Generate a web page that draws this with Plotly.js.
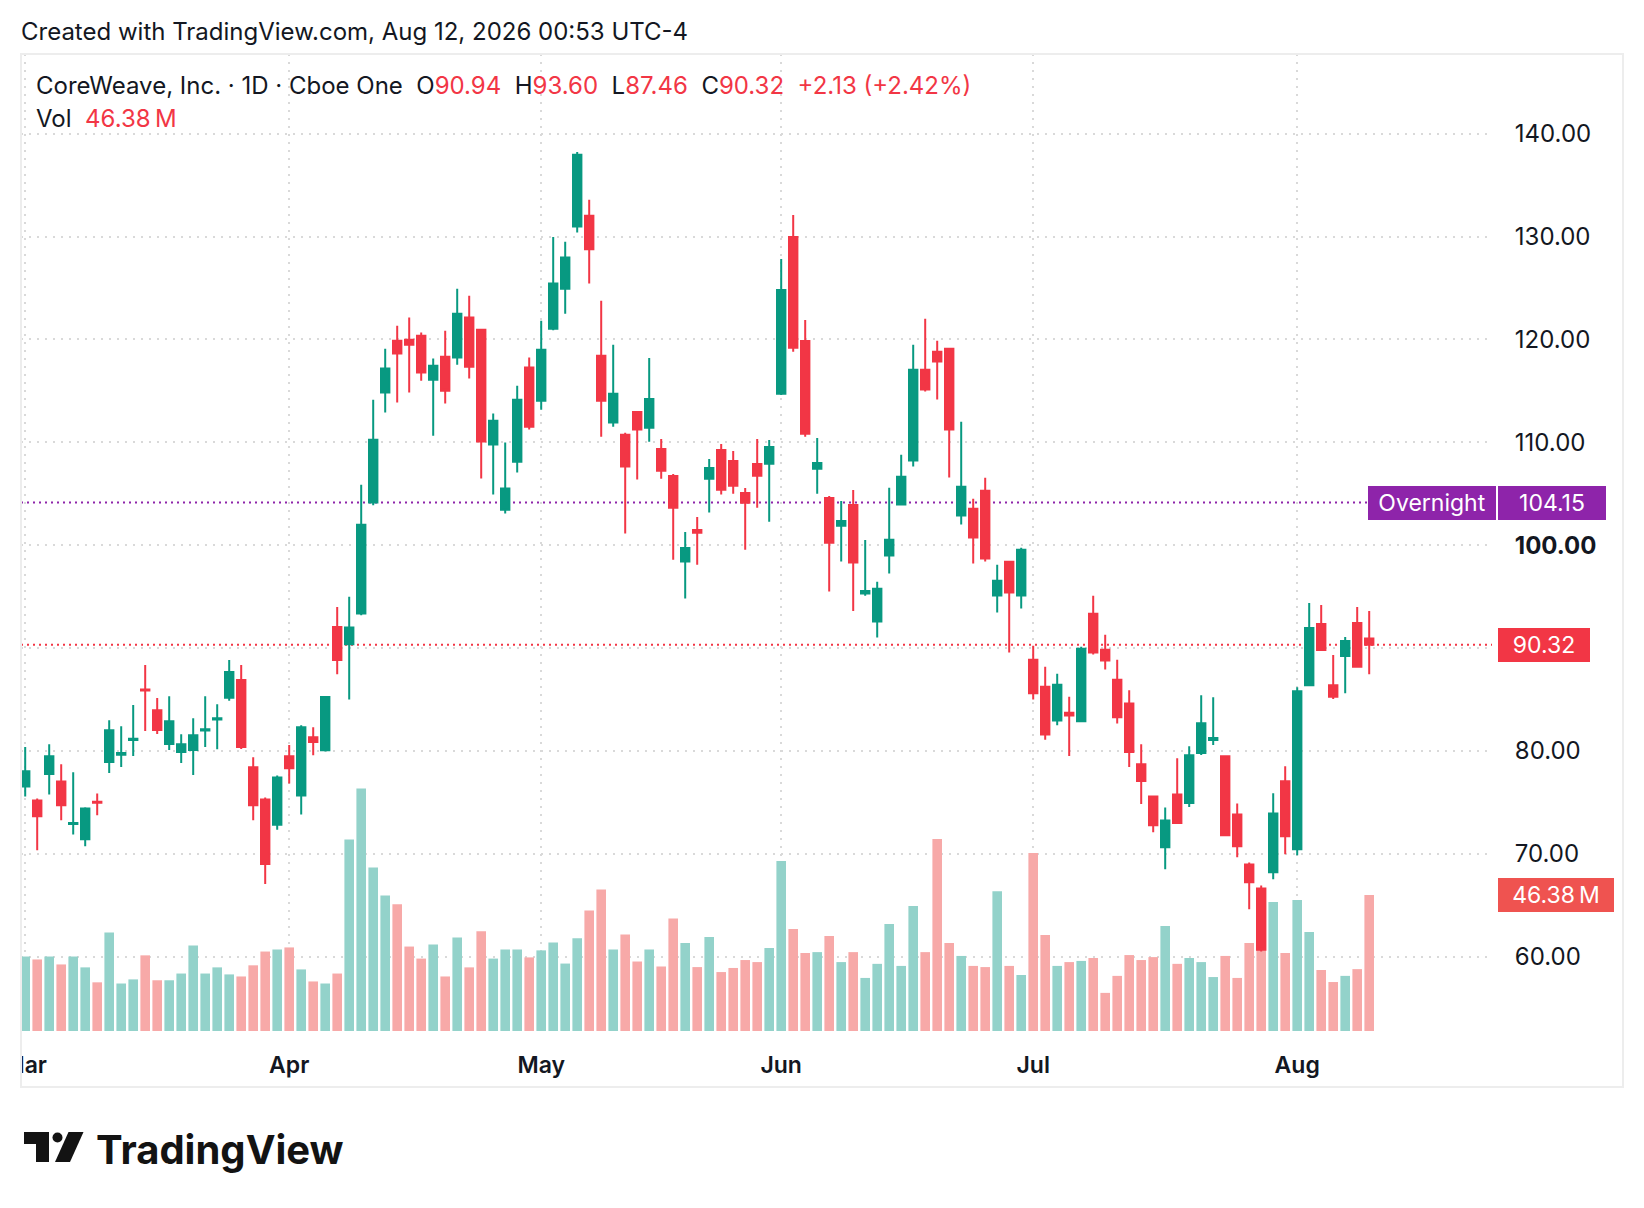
<!DOCTYPE html>
<html>
<head>
<meta charset="utf-8">
<script src="https://cdn.plot.ly/plotly-3.0.1.min.js"></script>
<style>
  html, body { margin: 0; padding: 0; background: #ffffff; }
  #chart { width: 1644px; height: 1208px; }
</style>
</head>
<body>
<div id="chart"></div>
<script>
// ---- data ----
const dates = [
  "2026-03-02","2026-03-03","2026-03-04","2026-03-05","2026-03-06",
  "2026-03-09","2026-03-10","2026-03-11","2026-03-12","2026-03-13",
  "2026-03-16","2026-03-17","2026-03-18","2026-03-19","2026-03-20",
  "2026-03-23","2026-03-24","2026-03-25","2026-03-26","2026-03-27",
  "2026-03-30","2026-03-31",
  "2026-04-01","2026-04-02","2026-04-06","2026-04-07","2026-04-08","2026-04-09","2026-04-10",
  "2026-04-13","2026-04-14","2026-04-15","2026-04-16","2026-04-17",
  "2026-04-20","2026-04-21","2026-04-22","2026-04-23","2026-04-24",
  "2026-04-27","2026-04-28","2026-04-29","2026-04-30",
  "2026-05-01","2026-05-04","2026-05-05","2026-05-06","2026-05-07","2026-05-08",
  "2026-05-11","2026-05-12","2026-05-13","2026-05-14","2026-05-15",
  "2026-05-18","2026-05-19","2026-05-20","2026-05-21","2026-05-22",
  "2026-05-26","2026-05-27","2026-05-28","2026-05-29",
  "2026-06-01","2026-06-02","2026-06-03","2026-06-04","2026-06-05",
  "2026-06-08","2026-06-09","2026-06-10","2026-06-11","2026-06-12",
  "2026-06-15","2026-06-16","2026-06-17","2026-06-18",
  "2026-06-22","2026-06-23","2026-06-24","2026-06-25","2026-06-26",
  "2026-06-29","2026-06-30",
  "2026-07-01","2026-07-02","2026-07-06","2026-07-07","2026-07-08","2026-07-09","2026-07-10",
  "2026-07-13","2026-07-14","2026-07-15","2026-07-16","2026-07-17",
  "2026-07-20","2026-07-21","2026-07-22","2026-07-23","2026-07-24",
  "2026-07-27","2026-07-28","2026-07-29","2026-07-30","2026-07-31",
  "2026-08-03","2026-08-04","2026-08-05","2026-08-06","2026-08-07",
  "2026-08-10","2026-08-11"
];

const openP = [
  76.55,75.19,77.76,77.04,72.91,71.41,75.06,78.93,79.64,81.07,
  85.98,83.97,80.68,79.90,80.10,81.98,83.06,85.17,86.89,78.41,
  75.28,72.83,79.48,75.67,81.33,80.07,92.04,90.38,93.37,104.16,
  114.84,119.88,119.98,120.36,116.09,118.31,118.24,122.13,120.95,109.78,
  103.46,108.11,117.27,114.05,121.05,124.94,130.98,132.02,118.42,111.92,
  110.74,112.96,111.43,109.36,106.73,98.41,101.48,106.47,109.26,108.19,
  105.08,107.90,107.93,114.73,129.96,119.85,107.44,104.59,101.90,103.91,
  95.30,92.59,99.01,103.96,108.24,117.05,118.80,119.09,102.90,103.54,
  105.29,95.12,98.39,95.12,88.87,86.25,82.97,83.72,82.88,93.34,
  89.84,86.93,84.62,78.70,75.58,70.65,75.78,74.94,79.81,81.07,
  79.48,73.83,68.96,66.62,68.21,77.05,70.45,86.40,92.34,86.40,
  89.22,92.44,90.94
];
const highP = [
  80.39,75.38,80.65,78.70,77.92,74.54,75.87,82.99,82.41,84.46,
  88.36,85.14,85.33,81.63,83.19,85.33,84.55,88.85,88.36,79.38,
  75.48,77.62,80.59,82.50,82.31,85.33,94.00,94.99,105.89,114.15,
  119.11,121.33,122.13,120.67,118.14,120.85,124.94,124.25,121.05,112.80,
  109.99,115.50,118.24,121.82,129.97,129.49,138.23,133.58,123.76,119.48,
  110.94,113.05,118.20,110.33,106.93,101.29,102.75,108.38,109.84,109.16,
  105.57,110.33,110.23,127.82,132.10,121.89,110.42,104.79,104.30,105.37,
  100.51,96.45,105.58,108.79,119.48,122.01,119.87,119.19,112.00,104.52,
  106.56,98.10,98.49,99.75,90.23,88.19,87.51,85.27,90.13,95.09,
  91.30,88.87,85.90,80.65,75.65,74.51,79.29,80.45,85.42,85.23,
  79.58,74.90,69.16,66.92,75.88,78.51,86.20,94.38,94.19,89.32,
  91.07,93.99,93.60
];
const lowP = [
  75.58,70.34,75.77,73.27,71.87,70.73,73.76,77.85,78.44,79.51,
  81.95,81.66,80.10,78.83,77.66,80.39,80.16,84.88,80.20,73.27,
  67.07,72.35,76.85,73.82,79.58,79.95,87.45,85.00,93.19,103.88,
  112.90,113.87,114.84,115.99,110.65,113.77,117.55,116.20,106.48,104.92,
  103.08,107.07,111.24,113.18,120.90,122.51,130.39,125.43,110.54,111.52,
  101.15,106.38,110.07,106.47,98.60,94.81,98.11,103.17,104.92,105.01,
  99.57,103.65,102.29,114.60,118.81,110.55,105.01,95.49,98.41,93.60,
  95.10,91.04,97.26,103.87,107.66,114.95,114.17,106.59,102.02,98.23,
  98.43,93.47,89.58,93.86,85.01,81.09,82.49,79.51,82.80,89.39,
  87.93,82.68,78.44,74.84,72.11,68.51,72.90,74.55,79.61,80.58,
  71.72,69.68,64.61,60.52,67.53,69.97,69.87,86.30,89.75,85.06,
  85.62,88.10,87.46
];
const closeP = [
  78.02,73.66,79.48,74.73,73.01,74.41,74.96,82.02,79.80,81.20,
  85.89,82.05,82.89,80.65,81.53,82.11,83.19,87.67,80.39,74.73,
  69.02,77.43,78.31,82.31,80.88,85.24,88.84,92.01,102.00,110.26,
  117.17,118.63,119.49,116.79,117.45,115.02,122.51,117.34,110.09,112.10,
  105.51,114.15,111.51,119.01,125.43,127.96,137.95,128.76,114.05,114.72,
  107.65,111.24,114.21,107.25,103.65,99.73,101.22,107.51,105.40,105.79,
  104.14,106.76,109.55,124.81,119.20,110.84,107.99,100.25,102.36,98.31,
  95.56,95.77,100.53,106.65,117.05,115.14,117.86,111.25,105.68,100.76,
  98.72,96.55,95.41,99.56,85.60,81.61,86.44,83.46,89.94,89.58,
  88.80,83.27,79.90,77.08,72.79,73.25,72.99,79.58,82.69,81.27,
  71.82,70.75,67.24,60.68,73.93,71.72,85.81,91.95,89.81,85.26,
  90.68,88.19,90.32
];
// volume, millions of shares
const volumeM = [
  25.4,24.4,25.4,22.7,25.4,21.7,16.6,33.6,16.2,17.6,
  25.8,17.3,17.3,19.6,29.2,19.6,21.7,19.3,18.6,22.4,
  27.1,27.8,28.5,21.0,16.9,16.2,19.6,65.3,82.7,55.8,
  46.2,43.2,28.8,24.7,29.5,18.6,31.9,21.7,34.0,24.7,
  27.8,27.8,25.1,27.5,30.2,23.0,31.6,41.1,48.3,27.8,
  32.9,23.7,27.8,22.0,38.4,30.0,21.8,32.1,20.1,21.5,
  24.2,23.5,28.3,58.0,34.8,26.6,26.9,32.4,23.5,26.9,
  18.1,22.9,36.5,22.2,42.6,26.9,65.5,30.0,25.6,22.2,
  21.8,47.7,22.2,19.1,60.7,32.7,22.2,23.5,23.9,24.9,
  13.0,18.8,25.9,24.2,25.2,35.8,22.9,24.9,23.5,18.4,
  25.6,18.1,30.0,27.7,44.0,26.6,44.7,33.8,20.8,16.7,
  18.8,21.1,46.38
];

const monthTickDates = ["2026-03-02","2026-04-01","2026-05-01","2026-06-01","2026-07-01","2026-08-03"];
const monthTickText  = ["Mar","Apr","May","Jun","Jul","Aug"];

const priceTickVals = [60,70,80,90,100,110,120,130,140];
const priceTickText = ["60.00","70.00","80.00","","<b>100.00</b>","110.00","120.00","130.00","140.00"];

const overnightPrice = 104.15;
const lastPrice = 90.32;
const lastVolumeM = 46.38;

// ---- styling ----
const UP = "#089981", DOWN = "#f23645";
const UP_VOL = "#93d2ca", DOWN_VOL = "#f7a9a8";
const TXT = "#131722";
const FONT = "Inter, 'Noto Sans', sans-serif";

const W = 1644, H = 1208;
const PL = 21, PR = 1492, PT = 54, PB = 1031;
const px = x => (x - PL) / (PR - PL);
const py = y => (PB - y) / (PB - PT);

const volColors = closeP.map((c, i) => c >= openP[i] ? UP_VOL : DOWN_VOL);

const volTrace = {
  type: "bar", x: dates, y: volumeM, xaxis: "x", yaxis: "y",
  marker: { color: volColors, line: { width: 0 } }, width: 0.8,
  hoverinfo: "skip", showlegend: false
};
const candleTrace = {
  type: "candlestick", x: dates, open: openP, high: highP, low: lowP, close: closeP,
  xaxis: "x", yaxis: "y2",
  increasing: { line: { color: UP, width: 2 }, fillcolor: UP },
  decreasing: { line: { color: DOWN, width: 2 }, fillcolor: DOWN },
  whiskerwidth: 0, showlegend: false, hoverinfo: "skip"
};

const red = s => `<span style="color:${DOWN}">${s}</span>`;
const sp = "\u00a0\u00a0";

const annotations = [
  { text: "Created with TradingView.com, Aug 12, 2026 00:53 UTC-4", x: px(21), y: py(31),
    font: { size: 24, color: TXT, family: FONT } },
  { text: "CoreWeave, Inc. · 1D · Cboe One" + sp + "O" + red(openP[112].toFixed(2)) + sp +
          "H" + red(highP[112].toFixed(2)) + sp + "L" + red(lowP[112].toFixed(2)) + sp +
          "C" + red(closeP[112].toFixed(2)) + sp + red("+2.13 (+2.42%)"),
    x: px(36), y: py(86), font: { size: 24, color: TXT, family: FONT } },
  { text: "Vol" + sp + red(lastVolumeM.toFixed(2) + "\u2009M"), x: px(36), y: py(119),
    font: { size: 24, color: TXT, family: FONT } },
  { text: "<b>TradingView</b>", x: px(96), y: py(1149),
    font: { size: 40, color: "#131313", family: FONT } },
  // price labels
  { text: "Overnight", x: px(1368), y: py(503), width: 128, height: 34, bgcolor: "#8e24aa",
    font: { size: 23, color: "#ffffff", family: FONT }, align: "center", xanchor: "left" },
  { text: overnightPrice.toFixed(2), x: px(1498), y: py(503), width: 108, height: 34, bgcolor: "#8e24aa",
    font: { size: 23, color: "#ffffff", family: FONT }, align: "center", xanchor: "left" },
  { text: lastPrice.toFixed(2), x: px(1498), y: py(645), width: 92, height: 34, bgcolor: DOWN,
    font: { size: 23, color: "#ffffff", family: FONT }, align: "center", xanchor: "left" },
  { text: lastVolumeM.toFixed(2) + "\u2009M", x: px(1498), y: py(895), width: 116, height: 34, bgcolor: "#ef5350",
    font: { size: 23, color: "#ffffff", family: FONT }, align: "center", xanchor: "left" }
].map(a => Object.assign({ xref: "paper", yref: "paper", showarrow: false, xanchor: "left",
  yanchor: "middle", borderpad: 0, borderwidth: 0 }, a));

// TradingView logo icon (pixel coords -> paper)
const path = pts => "M" + pts.map(p => px(p[0]) + "," + py(p[1])).join(" L") + " Z";
const shapes = [
  // horizontal price lines
  { type: "line", xref: "paper", x0: 0, x1: 1, yref: "y2", y0: overnightPrice, y1: overnightPrice,
    line: { color: "#8e24aa", width: 2, dash: "2px,4px" }, layer: "below" },
  { type: "line", xref: "paper", x0: 0, x1: 1, yref: "y2", y0: lastPrice, y1: lastPrice,
    line: { color: DOWN, width: 2, dash: "2px,4px" }, layer: "below" },
  // cover left of frame (clips the "Mar" label)
  { type: "rect", xref: "paper", yref: "paper", x0: px(0), x1: px(20), y0: py(1031), y1: py(1090),
    fillcolor: "#ffffff", line: { width: 0 }, layer: "above" },
  // frame
  { type: "rect", xref: "paper", yref: "paper", x0: px(21), x1: px(1623), y0: py(54), y1: py(1087),
    line: { color: "#ededed", width: 2 }, fillcolor: "rgba(0,0,0,0)", layer: "above" },
  // logo
  { type: "path", xref: "paper", yref: "paper", layer: "above", line: { width: 0 }, fillcolor: "#131313",
    path: path([[24,1132],[49,1132],[49,1162],[36,1162],[36,1144],[24,1144]]) },
  { type: "circle", xref: "paper", yref: "paper", layer: "above", line: { width: 0 }, fillcolor: "#131313",
    x0: px(52.5), x1: px(62.5), y0: py(1132.5), y1: py(1142.5) },
  { type: "path", xref: "paper", yref: "paper", layer: "above", line: { width: 0 }, fillcolor: "#131313",
    path: path([[68.5,1132],[83.5,1132],[70,1162],[55,1162]]) }
];

const layout = {
  width: W, height: H,
  margin: { l: PL, r: W - PR, t: PT, b: H - PB, pad: 0 },
  paper_bgcolor: "#ffffff", plot_bgcolor: "#ffffff",
  showlegend: false, boxgap: 0.3, boxgroupgap: 0,
  font: { family: FONT, color: TXT },
  xaxis: {
    type: "category", categoryorder: "array", categoryarray: dates,
    range: [-0.35, (PR - 25.2) / 12],
    tickvals: monthTickDates, ticktext: monthTickText,
    tickfont: { size: 23, color: TXT, family: FONT, weight: 600 },
    ticks: "outside", ticklen: 13, tickcolor: "rgba(0,0,0,0)",
    showgrid: true, gridcolor: "#d9d9d9", gridwidth: 2, griddash: "2px,6px",
    showline: false, zeroline: false, fixedrange: true,
    rangeslider: { visible: false }
  },
  yaxis: {
    range: [0, 333.2], visible: false, showgrid: false, zeroline: false, fixedrange: true
  },
  yaxis2: {
    overlaying: "y", side: "right", range: [52.78, 147.75],
    tickvals: priceTickVals, ticktext: priceTickText,
    tickfont: { size: 24, color: TXT, family: FONT },
    ticks: "outside", ticklen: 17, tickcolor: "rgba(0,0,0,0)",
    showgrid: true, gridcolor: "#d9d9d9", gridwidth: 2, griddash: "2px,6px",
    showline: false, zeroline: false, fixedrange: true
  },
  annotations: annotations,
  shapes: shapes
};

Plotly.newPlot("chart", [volTrace, candleTrace], layout, { staticPlot: true, displayModeBar: false });
</script>
</body>
</html>
